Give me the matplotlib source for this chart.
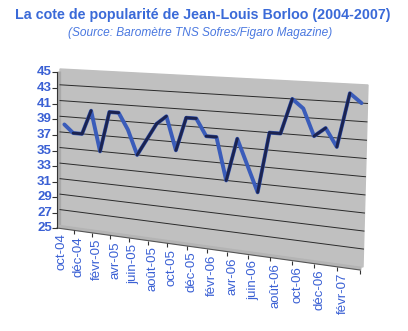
import numpy as np
import matplotlib
matplotlib.use('Agg')
import matplotlib.pyplot as plt
import matplotlib.transforms as mtransforms

plt.rcParams['font.family'] = ['Liberation Sans', 'DejaVu Sans']

# monthly poll values, oct-04 .. mars-07
months = ['oct-04', 'nov-04', 'déc-04', 'janv-05', 'févr-05', 'mars-05', 'avr-05',
          'mai-05', 'juin-05', 'juil-05', 'août-05', 'sept-05', 'oct-05', 'nov-05',
          'déc-05', 'janv-06', 'févr-06', 'mars-06', 'avr-06', 'mai-06', 'juin-06',
          'juil-06', 'août-06', 'sept-06', 'oct-06', 'nov-06', 'déc-06', 'janv-07',
          'févr-07', 'mars-07']
cote = [38, 37, 37, 40, 35, 40, 40, 38, 35, 37, 39, 40, 36, 40, 40,
        38, 38, 33, 38, 35, 32, 39, 39, 43, 42, 39, 40, 38, 44, 43]
yticks = list(range(25, 46, 2))

W, H = 408, 331
BLUE_TXT = '#3a60d4'


class Perspective(mtransforms.Transform):
    # maps the unit square onto a quad (excel 3d wall look)
    input_dims = 2
    output_dims = 2
    is_separable = False
    has_inverse = False

    def __init__(self, M):
        super().__init__()
        self.M = M

    def transform_non_affine(self, values):
        v = np.atleast_2d(np.asarray(values, float))
        p = np.column_stack([v, np.ones(len(v))]) @ self.M.T
        return p[:, :2] / p[:, 2:3]


def homography(src, dst):
    A = []
    b = []
    for (x, y), (u, v) in zip(src, dst):
        A.append([x, y, 1, 0, 0, 0, -u * x, -u * y])
        b.append(u)
        A.append([0, 0, 0, x, y, 1, -v * x, -v * y])
        b.append(v)
    h = np.linalg.solve(np.array(A, float), np.array(b, float))
    return np.append(h, 1).reshape(3, 3)


# wall corners in pixels (BL, BR, TR, TL)
quad_px = [(60, 225), (363, 267), (368, 85), (60, 69)]
quad = [(x / W, 1 - y / H) for x, y in quad_px]
M = homography([(0, 0), (1, 0), (1, 1), (0, 1)], quad)

fig = plt.figure(figsize=(W / 100, H / 100), dpi=100)
ax = fig.add_axes([0, 0, 1, 1])
ax.set_axis_off()
x = np.arange(len(months))
ax.set_xlim(-0.5, len(months) - 0.5)
ax.set_ylim(25, 45)

wall = ax.transScale + ax.transLimits + Perspective(M) + fig.transFigure
px = lambda dx, dy: mtransforms.ScaledTranslation(dx / 100, dy / 100, fig.dpi_scale_trans)
front = wall + px(-3, -3)

x0, x1 = ax.get_xlim()
# back wall
ax.fill([x0, x1, x1, x0], [25, 25, 45, 45], color='#c0c0c0', transform=wall,
        clip_on=False, zorder=1)
# left side wall and floor strips
ax.plot([x0, x0], [25, 45], color='#a9a9a9', lw=2.4, transform=wall + px(-1.5, -1.5),
        clip_on=False, zorder=1.5, solid_capstyle='butt')
ax.plot([x0, x1], [25, 25], color='#b4b4b4', lw=2.6, transform=wall + px(-1.5, -1.5),
        clip_on=False, zorder=1.5, solid_capstyle='butt')
ax.plot([x0, x1], [25, 25], color='#555555', lw=0.8, transform=front,
        clip_on=False, zorder=1.6)

# gridlines
for v in yticks[1:-1]:
    ax.plot([x0, x1], [v, v], color='#2a2a2a', lw=0.7, transform=wall,
            clip_on=False, zorder=2)

# y axis
ax.plot([x0, x0], [25, 45], color='#333333', lw=0.8, transform=front,
        clip_on=False, zorder=3)
ax.plot(np.full(len(yticks), x0), yticks, ls='none', marker=0, ms=3.5,
        mew=0.8, color='#333333', transform=front, clip_on=False, zorder=3)
for v in yticks:
    ax.text(x0, v, str(v), transform=front + px(-5, 0), ha='right', va='center',
            fontsize=9.5, fontweight='bold', color=BLUE_TXT, clip_on=False)

# x axis ticks and labels
ax.plot(x[1::2] + 0.5, np.full(len(x[1::2]), 25), ls='none', marker=3, ms=3,
        mew=0.8, color='#333333', transform=front, clip_on=False, zorder=3)
for i in x[::2]:
    ax.text(i, 25, months[i], transform=front + px(0, -5), rotation=90,
            ha='center', va='top', fontsize=9.5, color=BLUE_TXT, clip_on=False)

# the line: blue ribbon, rising parts darker
ax.plot(x, cote, color='#3a5cba', lw=2.8, transform=wall, clip_on=False,
        zorder=4, solid_joinstyle='round', solid_capstyle='round')
for i in range(len(cote) - 1):
    if cote[i + 1] >= cote[i]:
        ax.plot(x[i:i + 2], cote[i:i + 2], color='#1b2350', lw=2.1,
                transform=wall, clip_on=False, zorder=5, solid_capstyle='round')

fig.text(0.497, 1 - 15 / H, 'La cote de popularité de Jean-Louis Borloo (2004-2007)',
         ha='center', va='center', fontsize=10.3, fontweight='bold', color='#3a6ad8')
fig.text(0.49, 1 - 33 / H, '(Source: Baromètre TNS Sofres/Figaro Magazine)',
         ha='center', va='center', fontsize=8.6, style='italic', color='#4a78e0')

fig.savefig('out.png', dpi=100, facecolor='white')
